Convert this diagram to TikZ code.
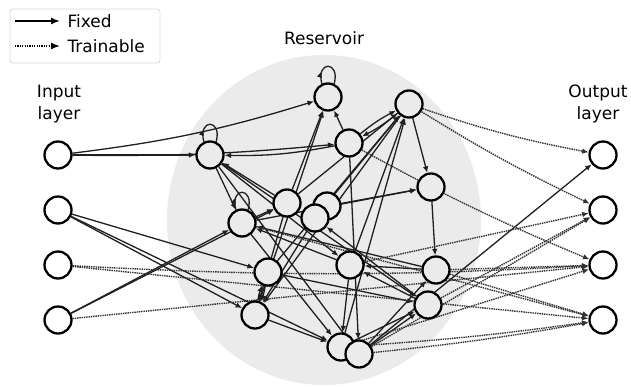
\documentclass[tikz,border=0pt]{standalone}
\usepackage{fontspec}
\setmainfont{DejaVu Sans}
\usetikzlibrary{arrows.meta, backgrounds, decorations.markings}

\definecolor{resgray}{HTML}{EBEBEB}
\definecolor{boxgray}{HTML}{D6D6D6}
\definecolor{dotgray}{HTML}{303030}

\tikzset{
  neuron/.style = {circle, draw, line width = 2.3pt, minimum size = 27pt, inner sep = 0pt, fill = white},
  resneuron/.style = {neuron, fill = resgray},
  fixed/.style = {-{Latex[length = 6.5pt, width = 5.5pt]}, line width = 1.3pt, black!88},
  trainable/.style = {-{Latex[length = 6.5pt, width = 5.5pt]}, line width = 1.4pt, dotgray,
    dash pattern = on 1.4pt off 0.9pt},
  selfloop/.style = {line width = 1.3pt, black!88, postaction = {decorate},
    decoration = {markings, mark = at position 0.3 with {\arrow{Latex[length = 6.5pt, width = 5.5pt]}}}},
  layertext/.style = {font = \fontsize{17}{22}\selectfont, align = center}
}

\begin{document}
\begin{tikzpicture}[x = 1pt, y = -1pt]
  \useasboundingbox (0,0) rectangle (631,386);

  % legend
  \draw[boxgray, line width = 0.8pt, rounded corners = 3pt] (10,9) rectangle (160,63);
  \coordinate (fixstart) at (15,21);
  \coordinate (fixend) at (60,21);
  \coordinate (trainstart) at (15,46);
  \coordinate (trainend) at (60,46);
  \draw[fixed, line width = 1.6pt, black, -{Latex[length = 9pt, width = 7pt]}] (fixstart) -- (fixend);
  \draw[trainable, line width = 1.6pt, black, dash pattern = on 1.2pt off 1.2pt,
    -{Latex[length = 9pt, width = 7pt]}] (trainstart) -- (trainend);
  \node[layertext, anchor = west] (fixtext) at (64,21) {Fixed};
  \node[layertext, anchor = west] (traintext) at (64,46) {Trainable};

  % layer titles
  \node[layertext] (intitle) at (59,104) {Input\\layer};
  \node[layertext] (restitle) at (324,38) {Reservoir};
  \node[layertext] (outtitle) at (598,104) {Output\\layer};

  % input and output neurons
  \foreach \i/\y in {1/155, 2/210, 3/265, 4/320} {
    \node[neuron] (in\i) at (58,\y) {};
    \node[neuron] (out\i) at (603,\y) {};
  }

  % reservoir neurons
  \foreach \n/\x/\y in {1/328/97, 2/409/104, 3/349/143, 4/210/155, 5/431/187,
      6/287/203, 7/327/206, 8/315/218, 9/242/223, 10/268/272, 11/350/265,
      12/436/270, 13/255/315, 14/428/305, 15/341/347, 16/359/354}
    \node[resneuron] (r\n) at (\x,\y) {};

  \begin{scope}[on background layer]
    \fill[resgray] (324,220) ellipse (157 and 165);

    % fixed weights
    \foreach \a/\b/\c in {in1/r1/-5, in1/r3/-3, in1/r4/0, in2/r10/0, in2/r13/0,
        in2/r15/0, in4/r9/0, in4/r6/0,
        r3/r4/6, r4/r9/0, r4/r11/0, r4/r14/0, r4/r16/0, r6/r4/0,
        r6/r1/0, r3/r1/0, r13/r1/0,
        r2/r3/6, r3/r2/6, r2/r5/0, r2/r13/0,
        r6/r2/0, r8/r2/0, r10/r2/0, r11/r2/0, r15/r2/0,
        r5/r12/0, r12/r11/0, r14/r11/0, r9/r5/0, r7/r5/0,
        r10/r14/0, r15/r14/0, r16/r14/0, r16/r12/0,
        r10/r13/6, r13/r10/6, r13/r15/0, r11/r15/0, r3/r16/0,
        r9/r15/0, r6/r13/0, r8/r13/0, r12/r9/0, r11/r9/0,
        r14/r8/0, r9/r6/0, r16/out1/0}
      \draw[fixed] (\a) to[bend left = \c] (\b);

    % self connections
    \foreach \n in {1, 4, 9}
      \draw[selfloop] (r\n.115) to[out = 105, in = 75, looseness = 5] (r\n.65);

    % trainable weights
    \foreach \a/\b/\c in {r2/out1/-4, r2/out2/-3, r3/out3/-3, r14/out2/0,
        r16/out2/0, r11/out2/0, in3/out3/-3, in4/out3/0, r12/out3/0, r15/out3/0,
        in3/out4/0, r9/out4/0, r12/out4/0, r15/out4/-2, r16/out4/-2}
      \draw[trainable] (\a) to[bend left = \c] (\b);
  \end{scope}
\end{tikzpicture}
\end{document}
